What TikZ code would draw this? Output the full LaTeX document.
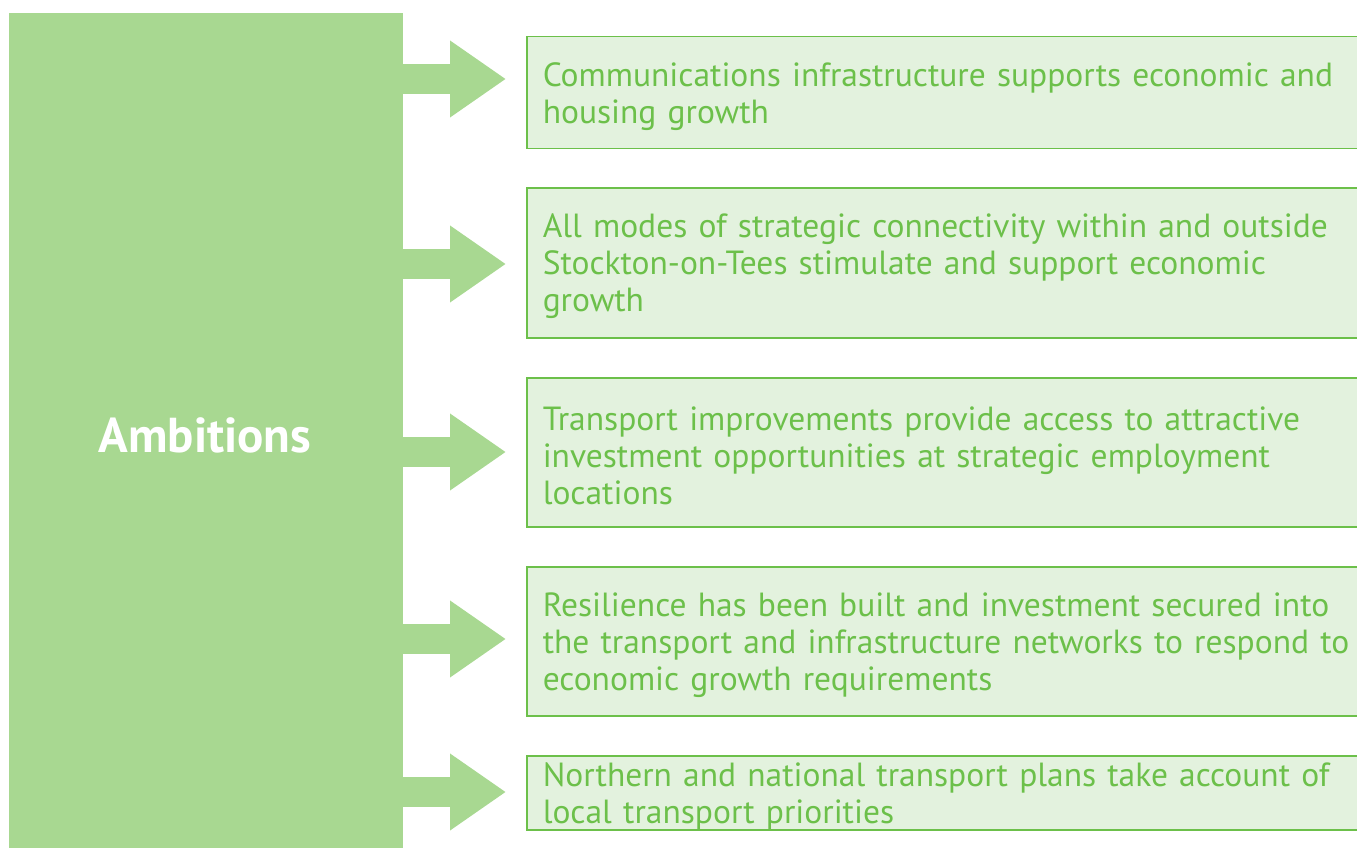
\documentclass[tikz,border=0pt]{standalone}
\usepackage{fontspec}
\setmainfont{PT Sans}
\usetikzlibrary{arrows.meta}
\definecolor{ambgreen}{HTML}{A8D891}
\definecolor{boxfill}{HTML}{E3F2DE}
\definecolor{boxline}{HTML}{6CC04A}
\begin{document}
\begin{tikzpicture}[x=1pt, y=-1pt,
		block/.style={draw=boxline, fill=boxfill, line width=1.5pt, anchor=north west, inner xsep=16pt, text width=812pt, align=left, text=boxline, font=\fontsize{33.5}{37}\selectfont, execute at end node={\endgraf\vspace{-7pt}}},
		feed/.style={draw=ambgreen, line width=30pt, shorten >=20pt, -{Triangle[length=56pt, width=73pt]}},
	]
		\clip (0,0) rectangle (1357,848);
		\node[fill=ambgreen, anchor=north west, minimum width=394pt, minimum height=850pt, inner sep=0pt] (amb) at (9,13) {};
		\node[text=white, font=\fontsize{49}{55}\selectfont\bfseries] (ambt) at (205,435) {Ambitions};

		\node[block, minimum height=112pt] (comm) at (526,36) {Communications infrastructure supports economic and\\housing growth};
		\node[block, minimum height=150pt] (conn) at (526,187) {All modes of strategic connectivity within and outside\\Stockton-on-Tees stimulate and support economic\\growth};
		\node[block, minimum height=149pt] (inv) at (526,377) {Transport improvements provide access to attractive\\investment opportunities at strategic employment\\locations};
		\node[block, minimum height=149pt] (res) at (526,566) {Resilience has been built and investment secured into\\the transport and infrastructure networks to respond to\\economic growth requirements};
		\node[block, minimum height=74pt] (nat) at (526,755) {Northern and national transport plans take account of\\local transport priorities};

		\foreach \b/\y in {comm/79, conn/264, inv/452, res/639, nat/792}
			\draw[feed] (amb.east |- 0,\y) -- (\b.west |- 0,\y);
	\end{tikzpicture}
\end{document}
